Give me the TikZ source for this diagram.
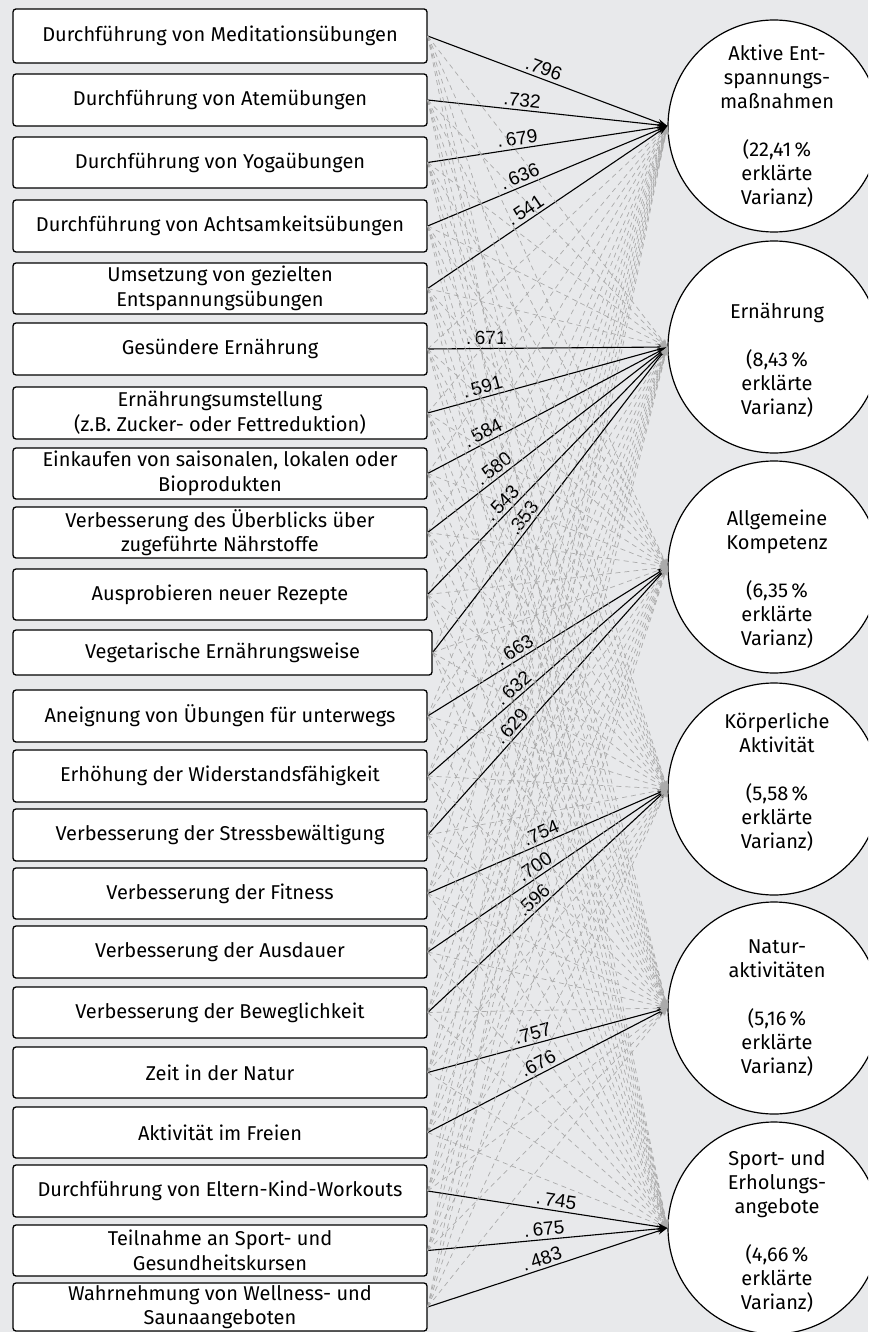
\documentclass[tikz,border=0pt]{standalone}
\usepackage{fontspec}
\setmainfont{Fira Sans}
\newfontfamily\numfont{Liberation Sans}
\usetikzlibrary{arrows.meta}
\definecolor{bg}{HTML}{E8E9EB}
\definecolor{crossline}{HTML}{ABABAB}

% dashed cross-loadings from every item to the factors it does not belong to
\newcommand\crosslines[1]{%
  \foreach \i/\g in {1/1,2/1,3/1,4/1,5/1,6/2,7/2,8/2,9/2,10/2,11/2,12/3,13/3,14/3,15/4,16/4,17/4,18/5,19/5,20/6,21/6,22/6}{%
    \foreach \f in {#1}{%
      \ifnum\f=\g\relax\else
        \draw[cross] (i\i.east) -- (f\f.west);
      \fi
    }%
  }%
}
\newcommand\dotgap{\hspace{3.5pt}}

\begin{document}
\begin{tikzpicture}[x=1pt,y=-1pt,
  item/.style={draw=black, line width=1.3pt, rounded corners=3pt, fill=white,
    minimum width=414pt, minimum height=52pt, align=center, inner sep=0pt,
    font=\fontsize{20}{24.5}\selectfont},
  factor/.style={draw=black, line width=1.2pt, circle, fill=white,
    minimum size=212pt, inner sep=0pt},
  ftext/.style={align=center, inner sep=0pt, font=\fontsize{20}{24}\selectfont},
  loading/.style={draw=black, line width=1.1pt, -{Stealth[length=10pt,width=7pt]}},
  cross/.style={draw=crossline, line width=0.7pt, dash pattern=on 5pt off 4pt,
    -{Stealth[length=8pt,width=6pt]}},
  val/.style={font=\numfont\fontsize{19}{19}\selectfont, sloped, above, inner sep=3pt}
]
\useasboundingbox (0,0) rectangle (868,1332);
\clip (0,0) rectangle (868,1332);
\fill[bg] (0,0) rectangle (868,1332);

% items
\node[item, minimum height=54pt] (i1) at (220,36) {Durchführung von Meditationsübungen};
\node[item] (i2) at (220,100) {Durchführung von Atemübungen};
\node[item, minimum height=51pt] (i3) at (220,162.5) {Durchführung von Yogaübungen};
\node[item] (i4) at (220,226) {Durchführung von Achtsamkeitsübungen};
\node[item, minimum height=51pt] (i5) at (220,288.5) {Umsetzung von gezielten\\Entspannungsübungen};
\node[item] (i6) at (220,349) {Gesündere Ernährung};
\node[item] (i7) at (220,413) {Ernährungsumstellung\\(z.B. Zucker- oder Fettreduktion)};
\node[item, minimum height=51pt] (i8) at (220,473.5) {Einkaufen von saisonalen, lokalen oder\\Bioprodukten};
\node[item, minimum height=51pt] (i9) at (220,532.5) {Verbesserung des Überblicks über\\zugeführte Nährstoffe};
\node[item, minimum height=51pt] (i10) at (220,594.5) {Ausprobieren neuer Rezepte};
\node[item, minimum height=45pt, minimum width=419pt] (i11) at (222.5,652.5) {Vegetarische Ernährungsweise};
\node[item] (i12) at (220,716) {Aneignung von Übungen für unterwegs};
\node[item] (i13) at (220,776) {Erhöhung der Widerstandsfähigkeit};
\node[item] (i14) at (220,835) {Verbesserung der Stressbewältigung};
\node[item, minimum height=51pt] (i15) at (220,893.5) {Verbesserung der Fitness};
\node[item] (i16) at (220,952) {Verbesserung der Ausdauer};
\node[item, minimum height=51pt] (i17) at (220,1012.5) {Verbesserung der Beweglichkeit};
\node[item, minimum height=51pt] (i18) at (220,1072.5) {Zeit in der Natur};
\node[item, minimum height=51pt] (i19) at (220,1132.5) {Aktivität im Freien};
\node[item] (i20) at (220,1191) {Durchführung von Eltern-Kind-Workouts};
\node[item, minimum height=51pt] (i21) at (220,1250.5) {Teilnahme an Sport- und\\Gesundheitskursen};
\node[item, minimum height=48pt] (i22) at (220,1307) {Wahrnehmung von Wellness- und\\Saunaangeboten};

% factors
\node[factor] (f1) at (774,126) {};
\node[factor] (f2) at (774,347) {};
\node[factor] (f3) at (774,567) {};
\node[factor] (f4) at (774,789) {};
\node[factor] (f5) at (774,1008) {};
\node[factor] (f6) at (774,1228) {};

\node[ftext] (t1) at ([xshift=3pt]f1.center) {Aktive Ent-\\spannungs-\\maßnahmen\\[24pt](22,41\,\%\\erklärte\\Varianz)};
\node[ftext] (t2) at ([xshift=3pt,yshift=-13pt]f2.center) {Ernährung\\[24pt](8,43\,\%\\erklärte\\Varianz)};
\node[ftext] (t3) at ([xshift=3pt,yshift=-12pt]f3.center) {Allgemeine\\Kompetenz\\[24pt](6,35\,\%\\erklärte\\Varianz)};
\node[ftext] (t4) at ([xshift=3pt,yshift=7pt]f4.center) {Körperliche\\Aktivität\\[24pt](5,58\,\%\\erklärte\\Varianz)};
\node[ftext] (t5) at ([xshift=3pt]f5.center) {Natur-\\aktivitäten\\[24pt](5,16\,\%\\erklärte\\Varianz)};
\node[ftext] (t6) at ([xshift=3pt,yshift=-3pt]f6.center) {Sport- und\\Erholungs-\\angebote\\[24pt](4,66\,\%\\erklärte\\Varianz)};

% cross-loadings below the first and last factor's loadings
\crosslines{1,6}

% factor loadings
\draw[loading] (i1.east) -- node[val, pos=0.47] {.796} (f1.west);
\draw[loading] (i2.east) -- node[val, pos=0.39] {.732} (f1.west);
\draw[loading] (i3.east) -- node[val, pos=0.38] {.\dotgap679} (f1.west);
\draw[loading] (i4.east) -- node[val, pos=0.40] {.\dotgap636} (f1.west);
\draw[loading] (i5.east) -- node[val, pos=0.43] {.\dotgap541} (f1.west);

\draw[loading] (i6.east) -- node[val, pos=0.245] {.\dotgap671} (f2.west);
\draw[loading] (i7.east) -- node[val, pos=0.24] {.\dotgap591} (f2.west);
\draw[loading] (i8.east) -- node[val, pos=0.25] {.\dotgap584} (f2.west);
\draw[loading] (i9.east) -- node[val, pos=0.30] {.\dotgap580} (f2.west);
\draw[loading] (i10.east) -- node[val, pos=0.34] {.\dotgap543} (f2.west);
\draw[loading] (i11.east) -- node[val, pos=0.42] {.353} (f2.west);

\draw[loading] (i12.east) -- node[val, pos=0.385] {.\dotgap663} (f3.west);
\draw[loading] (i13.east) -- node[val, pos=0.385] {.\dotgap632} (f3.west);
\draw[loading] (i14.east) -- node[val, pos=0.38] {.\dotgap629} (f3.west);

\draw[loading] (i15.east) -- node[val, pos=0.49] {.754} (f4.west);
\draw[loading] (i16.east) -- node[val, pos=0.47] {.700} (f4.west);
\draw[loading] (i17.east) -- node[val, pos=0.47] {.596} (f4.west);

\draw[loading] (i18.east) -- node[val, pos=0.45] {.757} (f5.west);
\draw[loading] (i19.east) -- node[val, pos=0.48] {.676} (f5.west);

\draw[loading] (i20.east) -- node[val, pos=0.53] {.\dotgap745} (f6.west);
\draw[loading] (i21.east) -- node[val, pos=0.49] {.\dotgap675} (f6.west);
\draw[loading] (i22.east) -- node[val, pos=0.49] {.\dotgap483} (f6.west);

% remaining cross-loadings, drawn over the loadings
\crosslines{2,3,4,5}
\end{tikzpicture}
\end{document}
